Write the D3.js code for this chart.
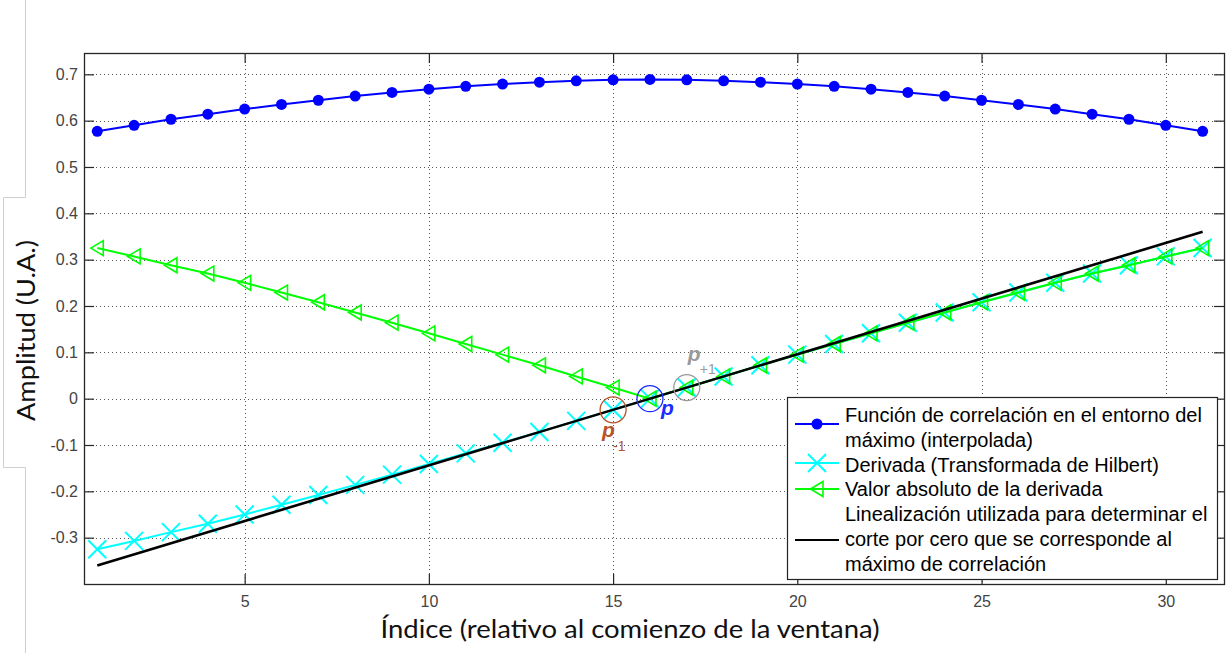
<!DOCTYPE html>
<html>
<head>
<meta charset="utf-8">
<script src="https://cdn.jsdelivr.net/npm/d3@7"></script>
<style>
  html, body { margin: 0; padding: 0; background: #fff; }
  svg { display: block; }
</style>
</head>
<body>
<svg id="chart" width="1227" height="653"></svg>
<script>
// Window index (relative to the start of the window)
const indices = [1,2,3,4,5,6,7,8,9,10,11,12,13,14,15,16,17,18,19,20,21,22,23,24,25,26,27,28,29,30,31];

// Correlation function around its maximum (interpolated)
const correlation = [0.577,0.590,0.603,0.614,0.625,0.635,0.644,0.653,0.661,0.668,0.674,0.679,0.683,0.686,0.688,0.689,
                     0.688,0.686,0.683,0.679,0.674,0.668,0.661,0.653,0.644,0.635,0.625,0.614,0.603,0.590,0.577];

// Derivative (Hilbert transform)
const derivative = [-0.325,-0.307,-0.288,-0.270,-0.250,-0.229,-0.208,-0.186,-0.164,-0.141,-0.118,-0.095,-0.072,-0.048,-0.024,0.000,
                    0.024,0.048,0.072,0.095,0.118,0.141,0.164,0.186,0.208,0.229,0.250,0.270,0.288,0.307,0.325];

// Absolute value of the derivative
const absDerivative = [0.325,0.307,0.288,0.270,0.250,0.229,0.208,0.186,0.164,0.141,0.118,0.095,0.072,0.048,0.024,0.000,
                       0.024,0.048,0.072,0.095,0.118,0.141,0.164,0.186,0.208,0.229,0.250,0.270,0.288,0.307,0.325];

// Linear fit used to find the zero crossing
const fitX = [1, 31];
const fitY = [-0.36, 0.36];

// Points around the zero crossing: p-1, p, p+1
const crossX = [15, 16, 17];
const crossY = [-0.024, 0.000, 0.024];
const crossNames = ["p", "p", "p"];
const crossSubs = ["-1", "", "+1"];

const xTicks = [5, 10, 15, 20, 25, 30];
const yTicks = [-0.3, -0.2, -0.1, 0, 0.1, 0.2, 0.3, 0.4, 0.5, 0.6, 0.7];

const legendLabels = [
  ["Función de correlación en el entorno del", "máximo (interpolada)"],
  ["Derivada (Transformada de Hilbert)"],
  ["Valor absoluto de la derivada"],
  ["Linealización utilizada para determinar el", "corte por cero que se corresponde al", "máximo de correlación"]
];

const xLabel = "Índice (relativo al comienzo de la ventana)";
const yLabel = "Amplitud (U.A.)";

// ---- layout ----
const svg = d3.select("#chart");
const L = 84, R = 1224, T = 53, B = 584;
const x = d3.scaleLinear().domain([0.64, 31.58]).range([L, R]);
const y = d3.scaleLinear().domain([-0.4, 0.746]).range([B, T]);

const BLUE = "#0000ff", CYAN = "#00ffff", GREEN = "#00ff00", BLACK = "#000000";
const tickFont = "'Liberation Sans', Arial, sans-serif";

// Light frame fragments on the left edge
const frag = svg.append("g").attr("stroke", "#cfcfcf").attr("stroke-width", 1).attr("fill", "none");
frag.append("path").attr("d", "M25.5,0 V197.5 H3.5 V467.5 H25.5 V653");

// Dotted grid
const grid = svg.append("g").attr("stroke", "#555").attr("stroke-width", 1)
  .attr("stroke-dasharray", "1,3");
grid.selectAll("line.gx").data(xTicks).join("line")
  .attr("x1", d => Math.round(x(d)) + 0.5).attr("x2", d => Math.round(x(d)) + 0.5)
  .attr("y1", T).attr("y2", B);
grid.selectAll("line.gy").data(yTicks).join("line")
  .attr("y1", d => Math.round(y(d)) + 0.5).attr("y2", d => Math.round(y(d)) + 0.5)
  .attr("x1", L).attr("x2", R);

// Axes via d3.axis with inward ticks, on all four sides
const tickLen = 10;
const axB = svg.append("g").attr("transform", `translate(0,${B})`)
  .call(d3.axisBottom(x).tickValues(xTicks).tickSizeInner(-tickLen).tickSizeOuter(0).tickPadding(18).tickFormat(d3.format("d")));
const axT = svg.append("g").attr("transform", `translate(0,${T})`)
  .call(d3.axisTop(x).tickValues(xTicks).tickSizeInner(-tickLen).tickSizeOuter(0).tickFormat(""));
const axL = svg.append("g").attr("transform", `translate(${L},0)`)
  .call(d3.axisLeft(y).tickValues(yTicks).tickSizeInner(-tickLen).tickSizeOuter(0).tickPadding(6)
    .tickFormat(d => d === 0 ? "0" : d3.format(".1f")(d).replace("−", "-")));
const axR = svg.append("g").attr("transform", `translate(${R},0)`)
  .call(d3.axisRight(y).tickValues(yTicks).tickSizeInner(-tickLen).tickSizeOuter(0).tickFormat(""));
[axB, axT, axL, axR].forEach(g => {
  g.select(".domain").remove();
  g.selectAll(".tick line").attr("stroke", "#262626").attr("stroke-width", 1.2);
  g.selectAll(".tick text").attr("font-family", tickFont).attr("font-size", 16).attr("fill", "#444");
});
axB.selectAll(".tick text").attr("dy", "0.32em");

// Plot box
svg.append("rect").attr("x", L + 0.5).attr("y", T + 0.5).attr("width", R - L).attr("height", B - T)
  .attr("fill", "none").attr("stroke", "#262626").attr("stroke-width", 1.3);

// ---- series ----
const plot = svg.append("g");
const line = d3.line().x(d => x(d[0])).y(d => y(d[1]));

// Correlation (blue, filled dots)
plot.append("path").datum(indices.map((d, i) => [d, correlation[i]]))
  .attr("d", line).attr("fill", "none").attr("stroke", BLUE).attr("stroke-width", 2);
plot.selectAll("circle.corr").data(indices).join("circle")
  .attr("cx", (d) => x(d)).attr("cy", (d, i) => y(correlation[i])).attr("r", 5.5).attr("fill", BLUE);

// Derivative (cyan, x markers)
plot.append("path").datum(indices.map((d, i) => [d, derivative[i]]))
  .attr("d", line).attr("fill", "none").attr("stroke", CYAN).attr("stroke-width", 2);
const xMark = (cx, cy, s) => `M${cx - s},${cy - s}L${cx + s},${cy + s}M${cx - s},${cy + s}L${cx + s},${cy - s}`;
plot.selectAll("path.deriv").data(indices).join("path")
  .attr("d", (d, i) => xMark(x(d), y(derivative[i]), 9))
  .attr("stroke", CYAN).attr("stroke-width", 2).attr("fill", "none");

// Absolute derivative (green, left-pointing triangles)
plot.append("path").datum(indices.map((d, i) => [d, absDerivative[i]]))
  .attr("d", line).attr("fill", "none").attr("stroke", GREEN).attr("stroke-width", 2);
const triLeft = (cx, cy) => `M${cx - 6.5},${cy}L${cx + 6},${cy - 7.5}L${cx + 6},${cy + 7.5}Z`;
plot.selectAll("path.absd").data(indices).join("path")
  .attr("d", (d, i) => triLeft(x(d), y(absDerivative[i])))
  .attr("stroke", GREEN).attr("stroke-width", 1.6).attr("fill", "none");

// Linear fit (black)
plot.append("path").datum(fitX.map((d, i) => [d, fitY[i]]))
  .attr("d", line).attr("fill", "none").attr("stroke", BLACK).attr("stroke-width", 2.6);

// ---- zero-crossing annotations ----
const crossColors = ["#b5532a", "#1a2cff", "#9a9a9a"];
const ann = svg.append("g");
ann.selectAll("circle").data(crossX).join("circle")
  .attr("cx", d => x(d)).attr("cy", (d, i) => y(crossY[i])).attr("r", 13)
  .attr("fill", "none").attr("stroke", (d, i) => crossColors[i]).attr("stroke-width", 1.3);

// label offsets around each circle (px)
const labelDx = [-11, 11, 1], labelDy = [27, 16, -27];
const subDx = [11, 0, 12], subDy = [14, 0, 13];
crossX.forEach((d, i) => {
  ann.append("text")
    .attr("x", x(d) + labelDx[i]).attr("y", y(crossY[i]) + labelDy[i])
    .attr("font-family", tickFont).attr("font-size", 21).attr("font-style", "italic")
    .attr("font-weight", "bold").attr("fill", crossColors[i])
    .text(crossNames[i]);
  if (crossSubs[i]) {
    ann.append("text")
      .attr("x", x(d) + labelDx[i] + subDx[i]).attr("y", y(crossY[i]) + labelDy[i] + subDy[i])
      .attr("font-family", tickFont).attr("font-size", 14)
      .attr("fill", crossColors[i]).text(crossSubs[i]);
  }
});

// ---- legend ----
const lg = svg.append("g");
const LX = 787, LY = 397, LW = 430, LH = 182;
lg.append("rect").attr("x", LX + 0.5).attr("y", LY + 0.5).attr("width", LW).attr("height", LH)
  .attr("fill", "#fff").attr("stroke", "#222").attr("stroke-width", 1.2);

const legendFont = "'Liberation Sans', Arial, sans-serif";
const lineGap = 24.8;
const firstBase = 422;
const sampleX1 = 795, sampleX2 = 839, sampleMid = (sampleX1 + sampleX2) / 2;
const sampleY = [424, 463, 489, 540];
const sampleColors = [BLUE, CYAN, GREEN, BLACK];
let row = 0;
legendLabels.forEach((lines, k) => {
  lines.forEach(txt => {
    lg.append("text").attr("x", 845).attr("y", firstBase + row * lineGap)
      .attr("font-family", legendFont).attr("font-size", 20).attr("fill", "#000").text(txt);
    row++;
  });
  lg.append("line").attr("x1", sampleX1).attr("x2", sampleX2)
    .attr("y1", sampleY[k]).attr("y2", sampleY[k])
    .attr("stroke", sampleColors[k]).attr("stroke-width", 2);
});
lg.append("circle").attr("cx", sampleMid).attr("cy", sampleY[0]).attr("r", 5.5).attr("fill", BLUE);
lg.append("path").attr("d", xMark(sampleMid, sampleY[1], 9)).attr("stroke", CYAN).attr("stroke-width", 2);
lg.append("path").attr("d", triLeft(sampleMid, sampleY[2])).attr("stroke", GREEN)
  .attr("stroke-width", 1.6).attr("fill", "none");

// ---- axis titles ----
svg.append("text").attr("x", 630).attr("y", 638).attr("text-anchor", "middle")
  .attr("font-family", "Lato, 'Open Sans', sans-serif").attr("font-size", 25).attr("fill", "#111")
  .attr("textLength", 499).attr("lengthAdjust", "spacingAndGlyphs")
  .text(xLabel);
svg.append("text").attr("transform", "translate(35,330.5) rotate(-90)").attr("text-anchor", "middle")
  .attr("font-family", "Lato, 'Open Sans', sans-serif").attr("font-size", 25).attr("fill", "#111")
  .attr("textLength", 181).attr("lengthAdjust", "spacingAndGlyphs")
  .text(yLabel);
</script>
</body>
</html>
